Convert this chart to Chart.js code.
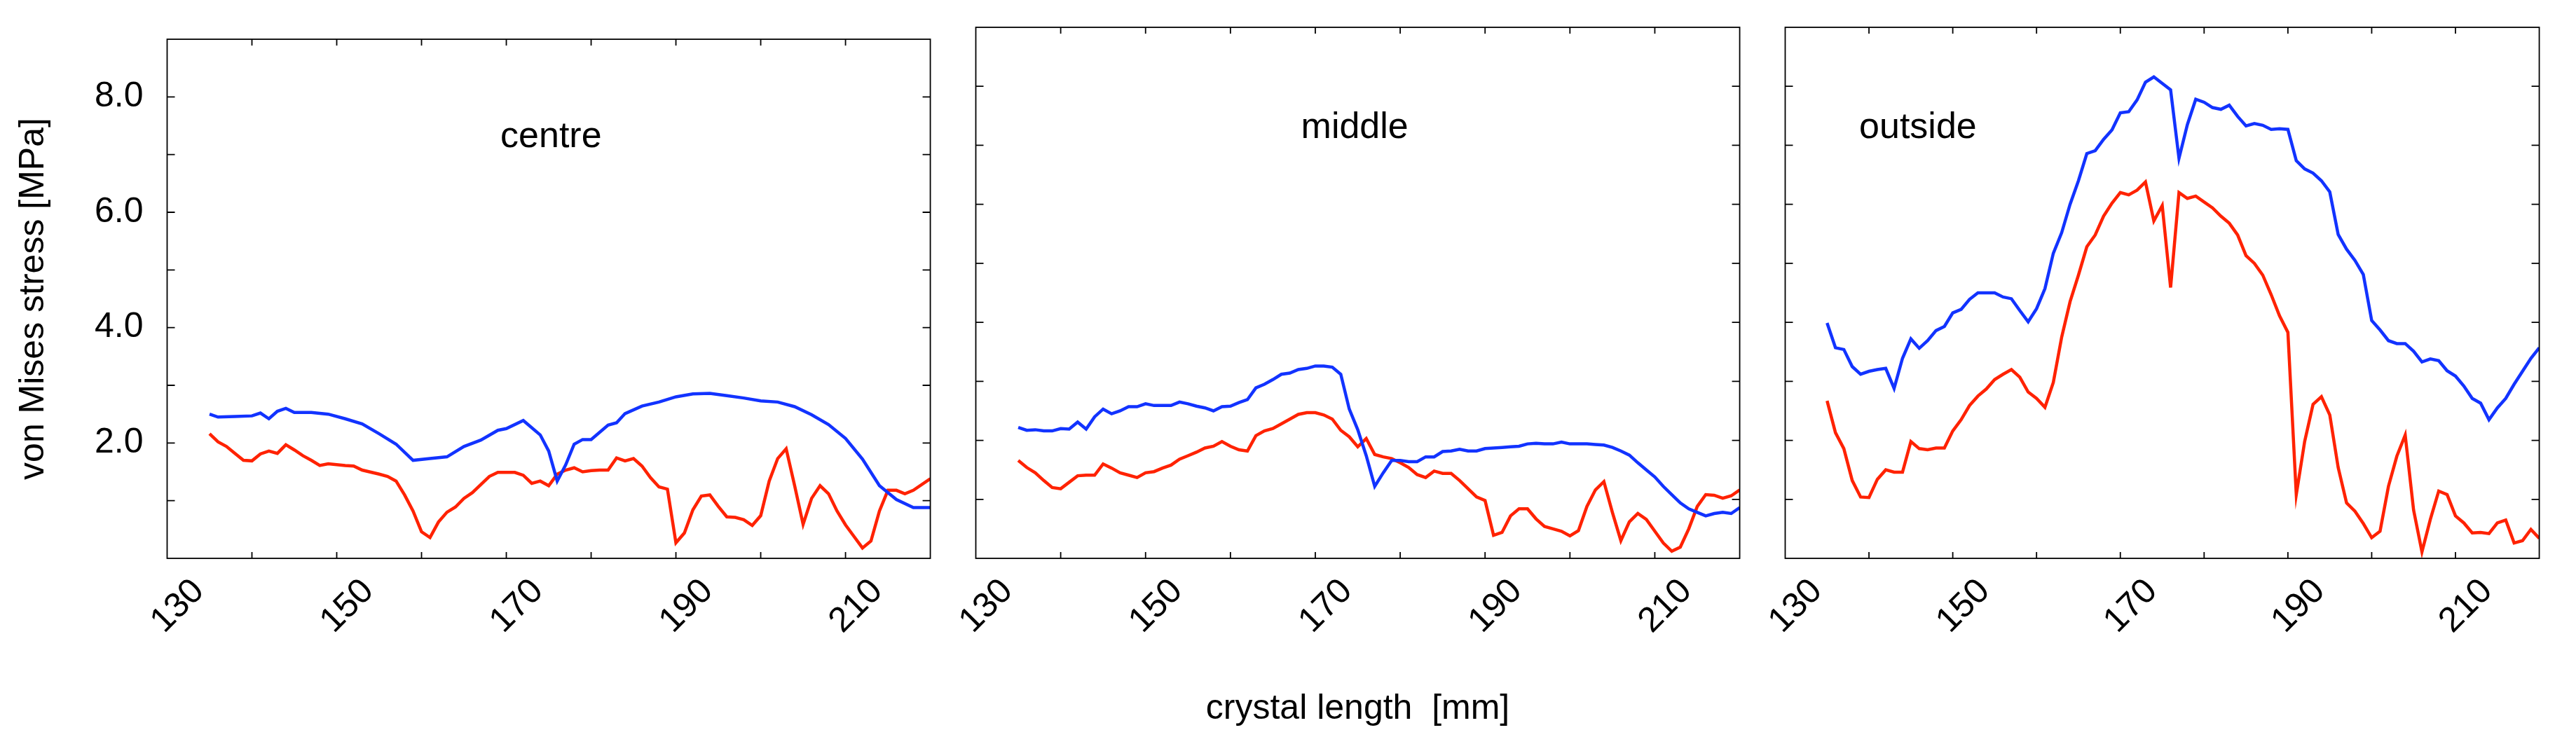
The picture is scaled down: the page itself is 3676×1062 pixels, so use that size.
<!DOCTYPE html>
<html><head><meta charset="utf-8">
<script src="https://cdn.jsdelivr.net/npm/chart.js@4/dist/chart.umd.min.js"></script>
<style>
body{margin:0;width:3676px;height:1062px;background:#fff;position:relative;overflow:hidden;font-family:"Liberation Sans",Arial,sans-serif}
.p{position:absolute;top:0;height:1062px}
</style></head><body>
<div class="p" style="left:0;width:1380px"><canvas id="c1"></canvas></div>
<div class="p" style="left:1292px;width:1243px"><canvas id="c2"></canvas></div>
<div class="p" style="left:2447px;width:1229px"><canvas id="c3"></canvas></div>
<script>
// --- DATA ---
const panelNames = ["centre", "middle", "outside"];
const xFull = [135,136,137,138,139,140,141,142,143,144,145,146,147,148,149,150,151,152,153,154,155,156,157,158,159,160,161,162,163,164,165,166,167,168,169,170,171,172,173,174,175,176,177,178,179,180,181,182,183,184,185,186,187,188,189,190,191,192,193,194,195,196,197,198,199,200,201,202,203,204,205,206,207,208,209,210,211,212,213,214,215,216,217,218,219,220];

const centreBlueX = [135,136,138,140,141,142,143,144,145,147,149,151,153,155,157,159,161,163,165,167,169,170,172,174,175,176,177,178,179,180,182,183,184,186,188,190,192,194,196,198,200,202,204,206,208,210,212,214,216,218,220];
const centreBlue = [2.50,2.45,2.46,2.47,2.52,2.42,2.55,2.60,2.53,2.53,2.50,2.42,2.33,2.16,1.98,1.70,1.73,1.76,1.94,2.05,2.22,2.25,2.39,2.14,1.86,1.34,1.62,1.98,2.06,2.06,2.31,2.35,2.51,2.64,2.71,2.80,2.85,2.86,2.82,2.78,2.73,2.71,2.63,2.49,2.32,2.08,1.72,1.26,1.02,0.88,0.88];

const centreRedX = [135,136,137,138,139,140,141,142,143,144,145,146,147,148,149,151,152,153,155,156,157,158,159,160,161,162,163,164,165,166,167,168,169,170,171,172,173,174,175,176,177,178,179,180,181,182,183,184,185,186,187,188,189,190,191,192,193,194,195,196,197,198,199,200,201,202,203,204,205,206,207,208,209,210,211,212,213,214,215,216,217,218,220];
const centreRed = [2.16,2.02,1.94,1.82,1.70,1.69,1.81,1.86,1.82,1.97,1.88,1.78,1.70,1.61,1.64,1.61,1.60,1.53,1.46,1.42,1.34,1.10,0.82,0.46,0.36,0.63,0.80,0.89,1.04,1.14,1.28,1.42,1.49,1.49,1.49,1.44,1.30,1.34,1.26,1.46,1.53,1.57,1.50,1.52,1.53,1.53,1.74,1.69,1.73,1.60,1.40,1.24,1.20,0.27,0.44,0.84,1.08,1.10,0.90,0.72,0.71,0.67,0.57,0.74,1.34,1.73,1.90,1.26,0.59,1.04,1.26,1.12,0.82,0.58,0.38,0.18,0.30,0.82,1.18,1.18,1.12,1.18,1.38];

const middleBlue = [2.22,2.17,2.18,2.16,2.16,2.20,2.19,2.31,2.19,2.40,2.53,2.45,2.50,2.57,2.57,2.62,2.59,2.59,2.59,2.65,2.62,2.58,2.55,2.50,2.57,2.58,2.64,2.69,2.89,2.95,3.03,3.12,3.14,3.20,3.22,3.26,3.26,3.24,3.12,2.53,2.18,1.74,1.22,1.45,1.66,1.66,1.64,1.64,1.72,1.72,1.81,1.82,1.85,1.82,1.82,1.86,1.87,1.88,1.89,1.90,1.94,1.95,1.94,1.94,1.97,1.94,1.94,1.94,1.93,1.92,1.88,1.82,1.75,1.62,1.50,1.38,1.22,1.08,0.94,0.84,0.78,0.72,0.76,0.78,0.76,0.86];
const middleRed = [1.66,1.54,1.45,1.32,1.20,1.18,1.29,1.40,1.41,1.41,1.60,1.53,1.45,1.41,1.37,1.45,1.47,1.53,1.58,1.68,1.74,1.80,1.87,1.90,1.98,1.90,1.84,1.82,2.08,2.16,2.20,2.28,2.36,2.44,2.47,2.47,2.43,2.36,2.17,2.06,1.89,2.03,1.76,1.72,1.69,1.62,1.54,1.42,1.37,1.48,1.44,1.44,1.32,1.18,1.04,0.98,0.39,0.44,0.72,0.84,0.84,0.67,0.54,0.50,0.46,0.38,0.47,0.88,1.16,1.30,0.78,0.30,0.62,0.76,0.66,0.46,0.26,0.12,0.19,0.50,0.88,1.08,1.07,1.02,1.06,1.16];

const outsideBlue = [3.99,3.57,3.54,3.25,3.12,3.17,3.20,3.22,2.88,3.39,3.72,3.56,3.69,3.86,3.93,4.16,4.22,4.39,4.50,4.50,4.50,4.43,4.40,4.20,4.01,4.23,4.57,5.17,5.52,6.00,6.40,6.86,6.91,7.10,7.26,7.55,7.57,7.77,8.07,8.16,8.05,7.94,6.78,7.35,7.78,7.73,7.64,7.61,7.68,7.49,7.33,7.37,7.34,7.27,7.28,7.27,6.74,6.60,6.53,6.40,6.21,5.49,5.24,5.05,4.81,4.03,3.87,3.69,3.64,3.64,3.51,3.33,3.38,3.35,3.18,3.09,2.92,2.71,2.63,2.35,2.55,2.71,2.95,3.17,3.39,3.57];
const outsideRed = [2.67,2.13,1.86,1.32,1.04,1.03,1.34,1.50,1.46,1.46,1.98,1.86,1.84,1.87,1.87,2.16,2.35,2.59,2.75,2.87,3.03,3.12,3.20,3.07,2.82,2.71,2.56,2.98,3.75,4.35,4.80,5.28,5.48,5.80,6.02,6.20,6.16,6.24,6.38,5.72,5.98,4.59,6.20,6.10,6.14,6.04,5.94,5.80,5.68,5.48,5.13,5.00,4.80,4.47,4.11,3.83,1.08,1.98,2.61,2.74,2.43,1.54,0.94,0.80,0.59,0.35,0.46,1.22,1.73,2.09,0.82,0.11,0.66,1.14,1.08,0.72,0.60,0.43,0.44,0.42,0.60,0.65,0.26,0.30,0.49,0.34];

const xMin = 130, xMax = 220, yMin = 0, yMax = 9;
const BLUE = "#1233ff", RED = "#ff2200";
const FONT = "'Liberation Sans', Arial, sans-serif";

function pts(xs, ys) { return ys.map((y, i) => ({ x: xs[i], y })); }

const framePlugin = {
    id: 'frame',
    afterDraw(chart) {
        const ctx = chart.ctx, a = chart.chartArea;
        const xs = chart.scales.x, ys = chart.scales.y;
        ctx.save();
        ctx.strokeStyle = "#000"; ctx.lineWidth = 1.8;
        ctx.strokeRect(a.left, a.top, a.right - a.left, a.bottom - a.top);
        ctx.beginPath();
        for (let v = yMin + 1; v < yMax; v++) {
            let y = ys.getPixelForValue(v);
            ctx.moveTo(a.left, y); ctx.lineTo(a.left + 11, y);
            ctx.moveTo(a.right, y); ctx.lineTo(a.right - 11, y);
        }
        for (let v = xMin + 10; v < xMax; v += 10) {
            let x = xs.getPixelForValue(v);
            ctx.moveTo(x, a.top); ctx.lineTo(x, a.top + 9);
            ctx.moveTo(x, a.bottom); ctx.lineTo(x, a.bottom - 9);
        }
        ctx.stroke();
        const o = chart.options.plugins.frame;
        ctx.fillStyle = "#000"; ctx.font = "52px " + FONT;
        ctx.textAlign = "center"; ctx.textBaseline = "middle";
        ctx.fillText(o.label, a.left + o.fx * (a.right - a.left), a.top + 0.189 * (a.bottom - a.top));
        ctx.restore();
    }
};

function makePanel(id, idx, blueX, blue, redX, red, yWidth, padTop, padRight, labelFx) {
    const first = idx === 0, mid = idx === 1;
    new Chart(document.getElementById(id), {
        type: 'line',
        data: { datasets: [
            { data: pts(blueX, blue), borderColor: BLUE, borderWidth: 4.5, pointRadius: 0, tension: 0 },
            { data: pts(redX, red), borderColor: RED, borderWidth: 4.5, pointRadius: 0, tension: 0 }
        ] },
        options: {
            responsive: true, maintainAspectRatio: false, animation: false,
            layout: { padding: { top: padTop, right: padRight, bottom: 0, left: 0 } },
            plugins: { legend: { display: false }, tooltip: { enabled: false },
                frame: { label: panelNames[idx], fx: labelFx } },
            scales: {
                x: {
                    type: 'linear', min: xMin, max: xMax,
                    grid: { display: false }, border: { display: false },
                    afterFit(s) { s.height = 265; },
                    ticks: {
                        stepSize: 10, autoSkip: false, maxRotation: 45, minRotation: 45,
                        padding: 10, labelOffset: 45, color: "#000",
                        font: { size: 50, family: FONT },
                        callback: v => ((v - xMin) % 20 === 0 && v < xMax) ? String(v) : ''
                    },
                    title: { display: mid, text: "crystal length  [mm]", color: "#000",
                        font: { size: 50, family: FONT }, padding: { top: 0, bottom: 20 } }
                },
                y: {
                    min: yMin, max: yMax,
                    grid: { display: false }, border: { display: false },
                    afterFit(s) { s.width = yWidth; },
                    ticks: {
                        display: first, stepSize: 1, padding: 26, color: "#000",
                        font: { size: 50, family: FONT },
                        callback: v => (v > 0 && v % 2 === 0) ? v.toFixed(1) : ''
                    },
                    title: { display: first, text: "von Mises stress [MPa]", color: "#000",
                        font: { size: 50, family: FONT }, padding: { top: 18, bottom: 0 } }
                }
            }
        },
        plugins: [framePlugin]
    });
}

makePanel('c1', 0, centreBlueX, centreBlue, centreRedX, centreRed, 238.5, 27, 32, 0.503);
makePanel('c2', 1, xFull, middleBlue, xFull, middleRed, 100.5, 39, 32, 0.496);
makePanel('c3', 2, xFull, outsideBlue, xFull, outsideRed, 100.5, 39, 20, 0.176);
</script>
</body></html>
